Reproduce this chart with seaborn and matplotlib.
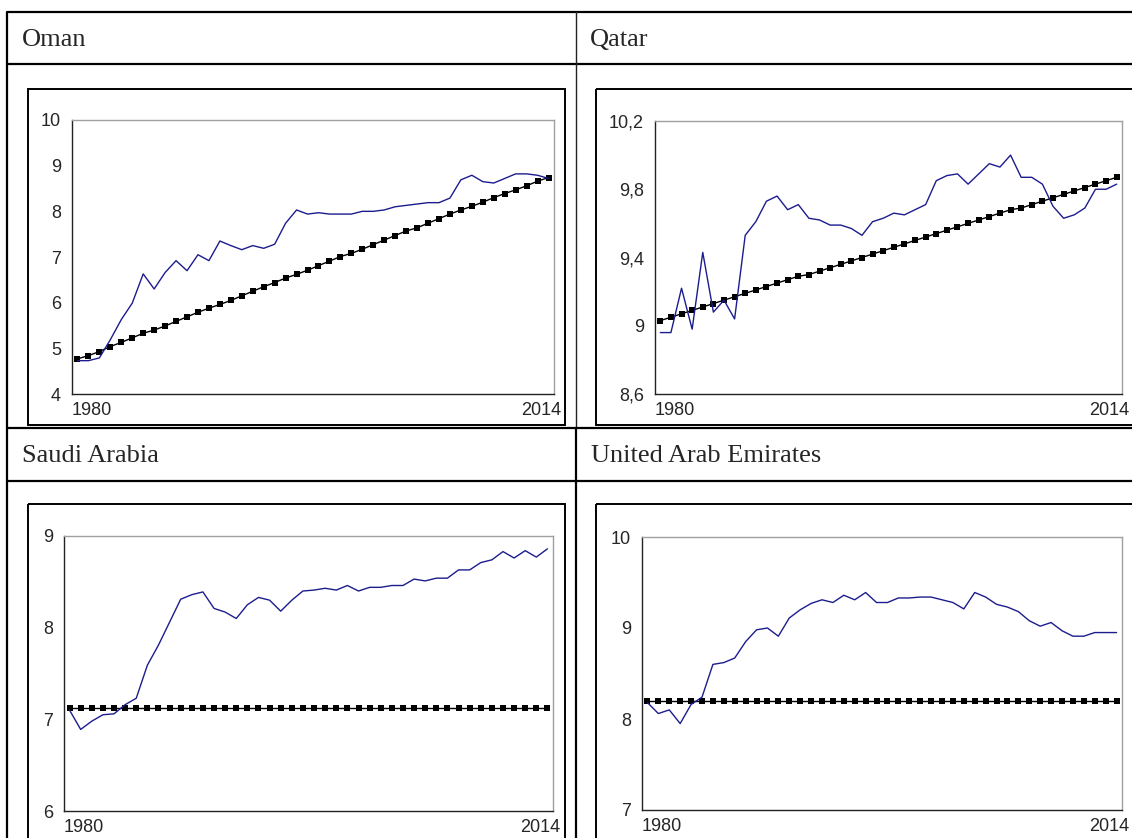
import matplotlib
matplotlib.use("Agg")
import matplotlib.pyplot as plt
from matplotlib.patches import Rectangle
import seaborn as sns

# data (44 points per country, first/last labelled 1980/2014)
year_labels = ["1980", "2014"]

oman_actual = [4.73, 4.73, 4.79, 5.19, 5.63, 5.99, 6.63, 6.30, 6.66, 6.92, 6.70,
               7.05, 6.92, 7.35, 7.25, 7.16, 7.25, 7.19, 7.28, 7.74, 8.03, 7.94,
               7.97, 7.94, 7.94, 7.94, 8.00, 8.00, 8.03, 8.10, 8.13, 8.16, 8.19,
               8.19, 8.29, 8.69, 8.79, 8.65, 8.62, 8.72, 8.82, 8.82, 8.79, 8.72]
oman_trend = [4.77, 4.84, 4.93, 5.04, 5.13, 5.23, 5.33, 5.40, 5.49, 5.59, 5.69,
              5.79, 5.88, 5.96, 6.05, 6.15, 6.25, 6.35, 6.44, 6.54, 6.62, 6.71,
              6.81, 6.91, 7.01, 7.08, 7.17, 7.27, 7.37, 7.47, 7.57, 7.64, 7.74,
              7.84, 7.94, 8.03, 8.11, 8.20, 8.30, 8.39, 8.47, 8.56, 8.66, 8.74]

qatar_actual = [8.96, 8.96, 9.22, 8.98, 9.43, 9.08, 9.15, 9.04, 9.53, 9.61, 9.73,
                9.76, 9.68, 9.71, 9.63, 9.62, 9.59, 9.59, 9.57, 9.53, 9.61, 9.63,
                9.66, 9.65, 9.68, 9.71, 9.85, 9.88, 9.89, 9.83, 9.89, 9.95, 9.93,
                10.00, 9.87, 9.87, 9.83, 9.70, 9.63, 9.65, 9.69, 9.80, 9.80, 9.83]
qatar_trend = [9.03, 9.05, 9.07, 9.09, 9.11, 9.13, 9.15, 9.17, 9.19, 9.21, 9.23,
               9.25, 9.27, 9.29, 9.30, 9.32, 9.34, 9.36, 9.38, 9.40, 9.42, 9.44,
               9.46, 9.48, 9.50, 9.52, 9.54, 9.56, 9.58, 9.60, 9.62, 9.64, 9.66,
               9.68, 9.69, 9.71, 9.73, 9.75, 9.77, 9.79, 9.81, 9.83, 9.85, 9.87]

saudi_actual = [7.10, 6.89, 6.98, 7.05, 7.06, 7.16, 7.23, 7.59, 7.81, 8.06, 8.31,
                8.36, 8.39, 8.21, 8.17, 8.10, 8.25, 8.33, 8.30, 8.18, 8.30, 8.40,
                8.41, 8.43, 8.41, 8.46, 8.40, 8.44, 8.44, 8.46, 8.46, 8.53, 8.51,
                8.54, 8.54, 8.63, 8.63, 8.71, 8.74, 8.83, 8.76, 8.84, 8.77, 8.86]
saudi_trend = [7.12, 7.12, 7.12, 7.12, 7.12, 7.12, 7.12, 7.12, 7.12, 7.12, 7.12,
               7.12, 7.12, 7.12, 7.12, 7.12, 7.12, 7.12, 7.12, 7.12, 7.12, 7.12,
               7.12, 7.12, 7.12, 7.12, 7.12, 7.12, 7.12, 7.12, 7.12, 7.12, 7.12,
               7.12, 7.12, 7.12, 7.12, 7.12, 7.12, 7.12, 7.12, 7.12, 7.12, 7.12]

uae_actual = [8.18, 8.06, 8.10, 7.95, 8.16, 8.24, 8.60, 8.62, 8.67, 8.85, 8.98,
              9.00, 8.91, 9.11, 9.20, 9.27, 9.31, 9.28, 9.36, 9.31, 9.39, 9.28,
              9.28, 9.33, 9.33, 9.34, 9.34, 9.31, 9.28, 9.21, 9.39, 9.34, 9.26,
              9.23, 9.18, 9.08, 9.02, 9.06, 8.97, 8.91, 8.91, 8.95, 8.95, 8.95]
uae_trend = [8.20, 8.20, 8.20, 8.20, 8.20, 8.20, 8.20, 8.20, 8.20, 8.20, 8.20,
             8.20, 8.20, 8.20, 8.20, 8.20, 8.20, 8.20, 8.20, 8.20, 8.20, 8.20,
             8.20, 8.20, 8.20, 8.20, 8.20, 8.20, 8.20, 8.20, 8.20, 8.20, 8.20,
             8.20, 8.20, 8.20, 8.20, 8.20, 8.20, 8.20, 8.20, 8.20, 8.20, 8.20]

oman_ticks = [4, 5, 6, 7, 8, 9, 10]
oman_ticklabels = ["4", "5", "6", "7", "8", "9", "10"]
qatar_ticks = [8.6, 9.0, 9.4, 9.8, 10.2]
qatar_ticklabels = ["8,6", "9", "9,4", "9,8", "10,2"]
saudi_ticks = [6, 7, 8, 9]
saudi_ticklabels = ["6", "7", "8", "9"]
uae_ticks = [7, 8, 9, 10]
uae_ticklabels = ["7", "8", "9", "10"]

W, H = 1132, 838
sns.set_style("white")
plt.rcParams["font.family"] = ["Liberation Sans Narrow", "Liberation Sans"]

fig = plt.figure(figsize=(W / 100, H / 100), dpi=100)

# table grid drawn in pixel coordinates
bg = fig.add_axes([0, 0, 1, 1])
bg.set_xlim(0, W)
bg.set_ylim(H, 0)
bg.axis("off")
for y in [12, 64, 428, 481]:
    bg.plot([7, W], [y, y], color="black", lw=1.6, solid_capstyle="butt")
bg.plot([7, 7], [12, H], color="black", lw=1.6)
bg.plot([576, 576], [12, 428], color="#222222", lw=1.0)
bg.plot([576, 576], [428, H], color="black", lw=1.6)

header_font = ["Liberation Serif", "DejaVu Serif"]
bg.text(22, 46, "Oman", fontsize=19, family=header_font, va="baseline")
bg.text(590, 46, "Qatar", fontsize=19, family=header_font, va="baseline")
bg.text(22, 462, "Saudi Arabia", fontsize=19, family=header_font, va="baseline")
bg.text(591, 462, "United Arab Emirates", fontsize=19, family=header_font, va="baseline")

for (x0, y0, x1, y1) in [(28, 89, 565, 425), (596, 89, 1160, 425),
                         (28, 504, 565, 870), (596, 504, 1160, 870)]:
    bg.add_patch(Rectangle((x0, y0), x1 - x0, y1 - y0, fill=False,
                           edgecolor="black", lw=1.4))


def panel(box, actual, trend, ticks, ticklabels):
    l, t, r, b = box
    ax = fig.add_axes([l / W, 1 - b / H, (r - l) / W, (b - t) / H])
    idx = list(range(len(actual)))
    sns.lineplot(x=idx, y=trend, ax=ax, color="black", lw=1.0, marker="s",
                 markersize=3.8, markeredgewidth=0)
    sns.lineplot(x=idx, y=actual, ax=ax, color="#1c1c8e", lw=1.0)
    ax.set_xlim(-0.5, len(actual) - 0.5)
    ax.set_ylim(ticks[0], ticks[-1])
    ax.set_yticks(ticks)
    ax.set_yticklabels(ticklabels)
    ax.set_xticks([])
    ax.tick_params(axis="y", direction="out", length=4, width=1,
                   color="#333333", labelsize=13, pad=4)
    ax.spines["left"].set_color("#222222")
    ax.spines["bottom"].set_color("#222222")
    ax.spines["top"].set_color("#a0a0a0")
    ax.spines["right"].set_color("#a0a0a0")
    for s in ax.spines.values():
        s.set_linewidth(1.0)
    ax.annotate(year_labels[0], xy=(0, 0), xycoords="axes fraction",
                xytext=(0, -6), textcoords="offset points", ha="left",
                va="top", fontsize=13)
    ax.annotate(year_labels[1], xy=(1, 0), xycoords="axes fraction",
                xytext=(5, -6), textcoords="offset points", ha="right",
                va="top", fontsize=13)
    return ax


panel((72, 120, 554, 394), oman_actual, oman_trend, oman_ticks, oman_ticklabels)
panel((655, 121, 1122, 394), qatar_actual, qatar_trend, qatar_ticks, qatar_ticklabels)
panel((64, 536, 553, 811), saudi_actual, saudi_trend, saudi_ticks, saudi_ticklabels)
panel((642, 537, 1122, 810), uae_actual, uae_trend, uae_ticks, uae_ticklabels)

fig.savefig("out.png", dpi=100)
